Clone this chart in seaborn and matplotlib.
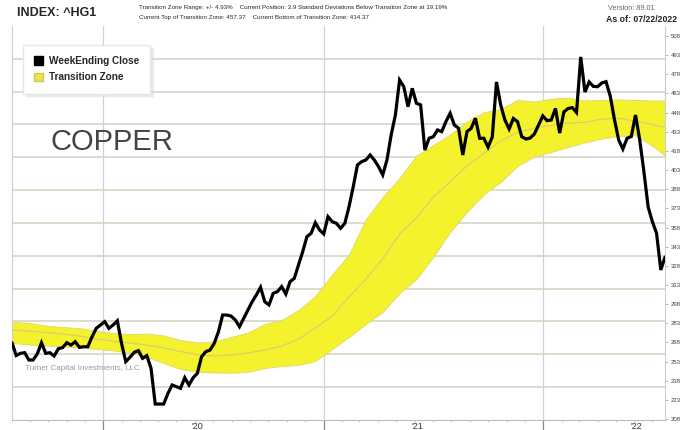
import numpy as np
import pandas as pd
import matplotlib
matplotlib.use("Agg")
import matplotlib.pyplot as plt
import matplotlib.dates as mdates
from matplotlib.patches import Patch
import seaborn as sns

# ── weekly closes of ^HG1 (copper, cents/lb), last week ending 07/22/2022 ──
week_end = pd.date_range(end="2022-07-22", periods=156, freq="W-FRI")
close = [
    267.8, 257.8, 259.5, 260.0, 254.3, 254.3, 259.0, 267.8, 259.5, 260.0,
    257.4, 263.1, 264.0, 267.8, 266.0, 268.6, 264.2, 264.7, 264.7, 272.5,
    279.1, 281.7, 284.3, 279.1, 281.7, 285.0, 267.3, 253.0, 256.4, 260.3,
    261.6, 255.6, 257.7, 247.8, 219.8, 219.8, 219.8, 228.0, 234.7, 233.4,
    232.1, 240.4, 234.7, 240.4, 243.9, 256.9, 260.8, 262.1, 267.3, 276.4,
    289.5, 289.5, 288.7, 285.6, 280.4, 286.9, 293.4, 299.9, 305.2, 311.2,
    299.9, 297.4, 306.5, 307.8, 311.7, 305.9, 315.6, 318.2, 328.7, 339.1,
    350.8, 353.5, 361.8, 356.1, 353.0, 366.5, 362.6, 361.3, 357.4, 361.3,
    374.3, 390.0, 407.0, 409.6, 410.9, 414.8, 410.9, 405.7, 399.2, 410.9,
    430.5, 446.1, 473.5, 468.3, 452.6, 467.0, 455.3, 454.0, 418.7, 427.9,
    429.1, 434.4, 433.1, 440.9, 447.5, 438.3, 435.7, 414.8, 433.1, 435.7,
    443.6, 427.9, 427.9, 421.0, 428.9, 472.0, 454.0, 442.2, 435.2, 443.4,
    440.9, 429.1, 427.3, 428.1, 431.3, 438.3, 445.4, 441.7, 442.2, 451.2,
    432.0, 448.5, 451.2, 451.9, 448.1, 491.6, 464.1, 472.0, 468.5, 468.3,
    471.2, 472.2, 461.0, 442.6, 426.6, 419.5, 427.9, 429.3, 446.1, 426.6,
    401.5, 374.1, 362.6, 353.5, 324.8, 334.9,
]

zone_idx = list(range(0, 156, 4)) + [155]
zone_top = [
    284.3, 283.3, 281.3, 280.1, 279.3, 277.0, 275.4, 274.6, 275.0, 273.5,
    269.9, 268.0, 268.8, 272.3, 275.8, 282.5, 285.6, 293.4, 304.4, 321.2,
    336.9, 364.7, 381.9, 396.8, 414.4, 422.6, 430.9, 441.0, 448.3, 450.8,
    457.9, 456.7, 458.9, 459.8, 457.5, 457.9, 458.3, 457.9, 457.5, 457.4,
]
zone_mid = [
    277.8, 277.0, 275.8, 274.6, 273.1, 270.7, 269.2, 267.6, 266.0, 263.7,
    260.9, 258.6, 257.4, 258.2, 259.8, 262.1, 265.2, 270.7, 279.3, 288.7,
    303.6, 317.7, 333.4, 352.9, 365.5, 381.9, 393.7, 406.2, 416.0, 425.8,
    432.4, 436.0, 437.9, 439.9, 440.3, 443.0, 443.4, 441.4, 438.7, 436.3,
]
zone_bot = [
    267.6, 266.4, 265.6, 264.9, 264.1, 262.9, 261.7, 260.2, 256.6, 251.9,
    247.2, 245.1, 244.5, 244.3, 244.9, 248.0, 249.6, 250.4, 253.5, 262.9,
    272.3, 282.5, 291.9, 306.7, 317.7, 334.9, 354.5, 370.2, 383.9, 393.7,
    406.2, 413.6, 417.2, 421.1, 424.6, 427.7, 429.7, 430.2, 421.9, 414.4,
]

y_ticks = np.arange(208, 509, 15)
year_labels = ["'20", "'21", "'22"]
label_dates = ["2020-06-05", "2021-06-05", "2022-06-05"]

weekly = pd.DataFrame({"date": week_end, "close": close})
zone = pd.DataFrame({
    "date": week_end[zone_idx],
    "top": zone_top,
    "mid": zone_mid,
    "bot": zone_bot,
})

sns.set_style("white")
narrow = ["Liberation Sans Narrow", "Liberation Sans", "DejaVu Sans"]
plt.rcParams["font.family"] = ["Liberation Sans", "DejaVu Sans"]

fig = plt.figure(figsize=(6.8, 4.3), dpi=100)
ax = fig.add_axes([12 / 680, 10 / 430, 653 / 680, 394 / 430])

ylo, yhi = 207.3, 515.8
ax.set_ylim(ylo, yhi)
ax.set_xlim(week_end[0], week_end[-1])

# horizontal grid: 12 equal bands of the plot height
for k in range(1, 12):
    ax.axhline(ylo + k * (yhi - ylo) / 12, color="#d5d5c6", lw=1.2, zorder=1)

ax.fill_between(zone["date"], zone["bot"], zone["top"], color="#f4f22c",
                edgecolor="#e3d56a", lw=0.6, zorder=2)
sns.lineplot(data=zone, x="date", y="mid", color="#d8c97e", lw=0.8, ax=ax, zorder=3)
sns.lineplot(data=weekly, x="date", y="close", color="black", lw=2.3, ax=ax,
             zorder=4, solid_joinstyle="miter")
ax.set_xlabel("")
ax.set_ylabel("")

# x axis: year boundaries with marks, labels placed mid-year
ax.xaxis.set_major_locator(mdates.YearLocator())
ax.xaxis.set_minor_locator(mdates.MonthLocator())
ax.tick_params(axis="x", which="major", length=7, width=0.9, color="#888888",
               labelbottom=False, bottom=True)
ax.tick_params(axis="x", which="minor", length=1.5, width=0.6, color="#bbbbbb",
               bottom=True)
ax.xaxis.grid(True, which="major", color="#d2d2d2", lw=0.9, zorder=0)
for lab, d in zip(year_labels, label_dates):
    ax.text(pd.Timestamp(d), -0.004, lab, transform=ax.get_xaxis_transform(),
            ha="center", va="top", fontsize=6.5, color="#333333")

# y axis on the right
ax.yaxis.tick_right()
ax.set_yticks(y_ticks)
ax.tick_params(axis="y", labelsize=4.3, length=2, width=0.5, color="#999999",
               labelcolor="#444444", pad=2, right=True)

for side in ["left", "right"]:
    ax.spines[side].set_color("#cfcfcf")
    ax.spines[side].set_linewidth(0.8)
ax.spines["bottom"].set_color("#bdbdbd")
ax.spines["top"].set_visible(False)

# legend
handles = [Patch(facecolor="black", edgecolor="black", label="WeekEnding Close"),
           Patch(facecolor="#e6e64a", edgecolor="#cccc55", label="Transition Zone")]
leg = ax.legend(handles=handles, loc="upper left",
                bbox_to_anchor=(23 / 680, 1 - 45 / 430), bbox_transform=fig.transFigure,
                prop={"size": 7.2, "weight": "bold"}, handlelength=0.9, handleheight=0.9,
                handletextpad=0.6, labelspacing=0.65, borderpad=1.1, borderaxespad=0,
                frameon=True, fancybox=False, edgecolor="#e6e6e6", framealpha=1,
                shadow={"color": "#dddddd", "ox": 2, "oy": -2})
leg.set_zorder(6)

# texts
ax.text(50 / 680, 1 - 142 / 430, "COPPER", transform=fig.transFigure,
        fontsize=21, color="#444444", va="center", ha="left")
ax.text(25 / 680, 1 - 369 / 430, "Turner Capital Investments, LLC",
        transform=fig.transFigure, fontsize=5.8, color="#9a9a9a", va="center")

fig.text(17 / 680, 1 - 13 / 430, "INDEX: ^HG1", family=narrow, fontsize=9,
         weight="bold", va="center")
fig.text(139 / 680, 1 - 8 / 430,
         "Transition Zone Range: +/- 4.93%    Current Position: 3.9 Standard "
         "Deviations Below Transition Zone at 19.19%",
         family=narrow, fontsize=4.5, va="center")
fig.text(139 / 680, 1 - 17 / 430,
         "Current Top of Transition Zone: 457.37    Current Bottom of Transition Zone: 414.37",
         family=narrow, fontsize=4.5, va="center")
fig.text(608 / 680, 1 - 8 / 430, "Version: 89.01", family=narrow, fontsize=5.2,
         color="#666666", va="center")
fig.text(677 / 680, 1 - 19 / 430, "As of: 07/22/2022", family=narrow, fontsize=6.3,
         weight="bold", color="#222222", va="center", ha="right")

fig.savefig("out.png", dpi=100)
